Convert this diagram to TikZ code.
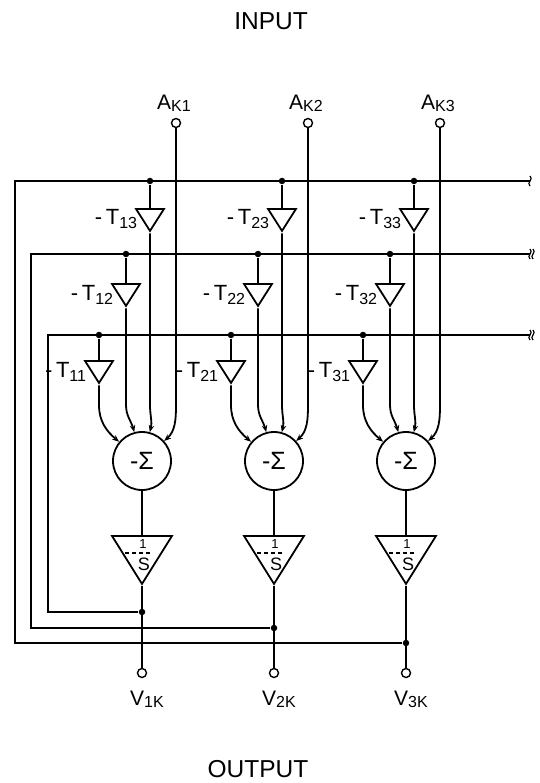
\documentclass[tikz,border=0pt]{standalone}
\usepackage{fontspec}
\setmainfont{Liberation Sans}
\usetikzlibrary{arrows.meta,shapes.geometric,positioning}
\newcommand\lowsub[1]{\raisebox{-4pt}{\fontsize{16}{16}\selectfont#1}}
\newcommand\termsub[1]{\raisebox{-2pt}{\fontsize{16}{16}\selectfont#1}}

\begin{document}
\begin{tikzpicture}[x=1pt,y=1pt,line width=1.8pt,
    gain/.style={draw,isosceles triangle,shape border rotate=270,
      isosceles triangle stretches,minimum width=28pt,minimum height=22pt,inner sep=0pt},
    integ/.style={gain,minimum width=60pt,minimum height=48pt},
    summer/.style={draw,circle,minimum size=58pt,inner sep=0pt,font=\fontsize{25}{25}\selectfont},
    term/.style={draw,circle,fill=white,minimum size=9pt,inner sep=0pt,line width=1.4pt},
    junction/.style={circle,fill,minimum size=6.5pt,inner sep=0pt},
    lbl/.style={inner sep=0pt,font=\fontsize{22}{22}\selectfont},
    io/.style={inner sep=0pt,font=\fontsize{21}{21}\selectfont},
    sig/.style={-{Stealth[length=7pt,width=5.5pt]}}]
\useasboundingbox (0,0) rectangle (539,-783);

\node[inner sep=0pt,font=\fontsize{24.5}{24.5}\selectfont] (input) at (271,-21) {INPUT};
\node[inner sep=0pt,font=\fontsize{24.5}{24.5}\selectfont] (output) at (258,-769) {OUTPUT};

\foreach \c/\x in {1/142,2/274,3/406}{
  % summer and integrator
  \node[summer] (s\c) at (\x,-461) {-Σ};
  \node[integ,anchor=north] (i\c) at (\x,-535) {};
  \node[inner sep=0pt,font=\fontsize{13}{13}\selectfont] (one\c) at (\x+1,-544) {1};
  \node[inner sep=0pt,font=\fontsize{18}{18}\selectfont] (ess\c) at (\x+2,-564) {S};
  \draw[line width=1.4pt,dash pattern=on 4pt off 3pt] (\x-17,-553) -- (\x+10,-553);
  % input and output terminals
  \node[term] (a\c) at (\x+34,-123) {};
  \node[io,above=5pt of a\c,xshift=-2pt] (la\c) {A\termsub{K\c}};
  \node[term] (v\c) at (\x,-673) {};
  \node[io,below=12pt of v\c,xshift=5pt] (lv\c) {V\termsub{\c K}};
  \draw[sig] (a\c) -- (a\c |- 0,-405) to[out=-90,in=42] (s\c.42);
  \draw (s\c) -- (i\c.north);
  \draw (i\c.apex) -- (v\c);
  % gains
  \foreach \j/\dx/\ty/\by/\ang in {1/-43/360/335/140,2/-16/283/254/105,3/8/208/181/75}{
    \node[gain,anchor=north] (t\c\j) at (\x+\dx,-\ty) {};
    \node[lbl,anchor=base east] (l\c\j) at ([xshift=-12pt,yshift=-17pt]t\c\j.north) {-\,T\lowsub{\c\j}};
    \node[junction] (d\c\j) at (t\c\j.north |- 0,-\by) {};
    \draw (d\c\j) -- (t\c\j.north);
    \draw[sig] (t\c\j.apex) -- (t\c\j.apex |- 0,-405) to[out=-90,in=\ang] (s\c.\ang);
  }
}

% feedback buses
\foreach \c/\fx/\fy/\by/\r in {1/48/612/335/2,2/31/628/254/2,3/15/643/181/1}{
  \node[junction] (f\c) at (v\c |- 0,-\fy) {};
  \coordinate (r\c) at (530,-\by);
  \draw (f\c) -| (\fx,-\by) -- (r\c);
  \foreach \k in {1,...,\r}
    \draw[line width=1.2pt] ([xshift=3*\k-3]r\c) ++(0,5) .. controls +(4,-3) and +(-4,3) .. ++(0,-10);
}
\end{tikzpicture}
\end{document}
